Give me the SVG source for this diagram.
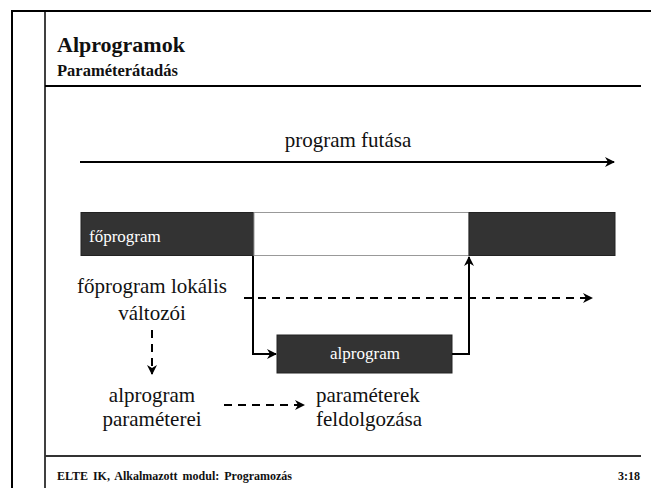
<svg xmlns="http://www.w3.org/2000/svg" width="651" height="488" viewBox="0 0 651 488">
<defs>
<marker id="ah" viewBox="0 0 10 10" refX="9" refY="5" markerWidth="5" markerHeight="5" orient="auto" markerUnits="strokeWidth">
<path d="M0,0 L10,5 L0,10 L3,5 Z" fill="#000"/>
</marker>
</defs>
<rect width="651" height="488" fill="#fff"/>
<g id="frame">
<line x1="12" y1="11" x2="651" y2="11" stroke="#000" stroke-width="2"/>
<line x1="12" y1="10" x2="12" y2="488" stroke="#000" stroke-width="2"/>
<line x1="45" y1="11" x2="45" y2="488" stroke="#000" stroke-width="1.5"/>
<line x1="45" y1="86" x2="641" y2="86" stroke="#000" stroke-width="2"/>
<line x1="45" y1="456" x2="641" y2="456" stroke="#333" stroke-width="2"/>
<text x="57" y="52" font-size="22" font-weight="bold" fill="#111" font-family="Liberation Serif">Alprogramok</text>
<text x="57" y="76" font-size="16.5" font-weight="bold" fill="#111" font-family="Liberation Serif">Paraméterátadás</text>
<text x="57" y="480" font-size="12" font-weight="bold" fill="#111" font-family="Liberation Serif" word-spacing="2">ELTE IK, Alkalmazott modul: Programozás</text>
<text x="640" y="480" font-size="12" font-weight="bold" fill="#111" font-family="Liberation Serif" text-anchor="end">3:18</text>
</g>
<g id="timeline">
<text x="348" y="147" font-size="21" fill="#111" font-family="Liberation Serif" text-anchor="middle">program futása</text>
</g>
<g id="bar">
<rect x="81" y="212.5" width="173" height="43" fill="#333" stroke="#222" stroke-width="1"/>
<rect x="254" y="212.5" width="215" height="43" fill="#fff" stroke="#999" stroke-width="1"/>
<rect x="469" y="212.5" width="146" height="43" fill="#333" stroke="#222" stroke-width="1"/>
<text x="89" y="242" font-size="17" fill="#fff" font-family="Liberation Serif">főprogram</text>
</g>
<g id="alprogram">
<rect x="277" y="335" width="175" height="38" fill="#333" stroke="#222" stroke-width="1"/>
<text x="365" y="359" font-size="17" fill="#fff" font-family="Liberation Serif" text-anchor="middle">alprogram</text>
</g>
<g id="lokalis">
<text x="152" y="293" font-size="21" fill="#111" font-family="Liberation Serif" text-anchor="middle">főprogram lokális</text>
<text x="152" y="320" font-size="21" fill="#111" font-family="Liberation Serif" text-anchor="middle">változói</text>
</g>
<g id="parameterei">
<text x="152" y="402" font-size="21" fill="#111" font-family="Liberation Serif" text-anchor="middle">alprogram</text>
<text x="152" y="426" font-size="21" fill="#111" font-family="Liberation Serif" text-anchor="middle">paraméterei</text>
</g>
<g id="feldolgozasa">
<text x="316" y="402" font-size="21" fill="#111" font-family="Liberation Serif">paraméterek</text>
<text x="316" y="426" font-size="21" fill="#111" font-family="Liberation Serif">feldolgozása</text>
</g>
<g id="connectors" stroke="#000" stroke-width="2" fill="none">
<line x1="80" y1="162" x2="614" y2="162" marker-end="url(#ah)"/>
<polyline points="253,256 253,354 276,354" marker-end="url(#ah)"/>
<polyline points="452,354 469,354 469,257" marker-end="url(#ah)"/>
<line x1="244" y1="298" x2="592" y2="298" stroke-dasharray="8 6" marker-end="url(#ah)"/>
<line x1="152" y1="330" x2="152" y2="374" stroke-dasharray="8 6" marker-end="url(#ah)"/>
<line x1="224" y1="405" x2="304" y2="405" stroke-dasharray="8 6" marker-end="url(#ah)"/>
</g>
</svg>
